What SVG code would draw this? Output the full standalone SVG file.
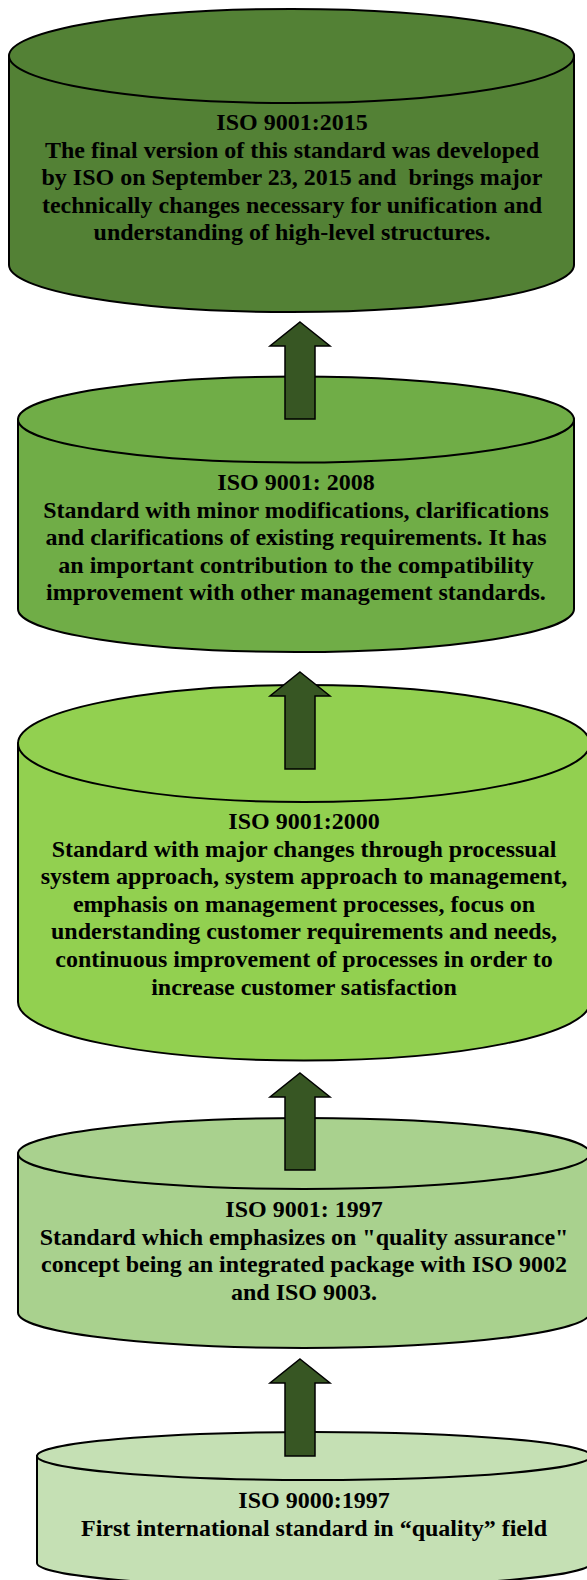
<svg xmlns="http://www.w3.org/2000/svg" width="587" height="1580" viewBox="0 0 587 1580">
  <style>
    .cyl { stroke: #000; stroke-width: 2; }
    .c1 { fill: #538135; }
    .c2 { fill: #70AD47; }
    .c3 { fill: #92D050; }
    .c4 { fill: #A9D18E; }
    .c5 { fill: #C5E0B4; }
    .lbl { font-family: "Liberation Serif", "Times New Roman", serif; font-weight: bold; font-size: 24px; fill: #000; text-anchor: middle; }
    .arrow { fill: #375623; stroke: #000; stroke-width: 1.5; stroke-linejoin: miter; }
  </style>
  <rect width="587" height="1580" fill="#fff"/>

  <!-- ISO 9001:2015 -->
  <g id="iso9001-2015">
    <path class="cyl c1" d="M9,56 V265 A282.5,47 0 0 0 574,265 V56 Z"/>
    <ellipse class="cyl c1" cx="291.5" cy="56" rx="282.5" ry="47"/>
    <text class="lbl" xml:space="preserve"><tspan x="292" y="130">ISO 9001:2015</tspan><tspan x="292" y="157.6">The final version of this standard was developed</tspan><tspan x="292" y="185.2">by ISO on September 23, 2015 and  brings major</tspan><tspan x="292" y="212.8">technically changes necessary for unification and</tspan><tspan x="292" y="240.4">understanding of high-level structures.</tspan></text>
  </g>

  <!-- ISO 9001:2008 -->
  <g id="iso9001-2008">
    <path class="cyl c2" d="M18,419.5 V609 A278,43 0 0 0 574,609 V419.5 Z"/>
    <ellipse class="cyl c2" cx="296" cy="419.5" rx="278" ry="43"/>
    <text class="lbl"><tspan x="296" y="490">ISO 9001: 2008</tspan><tspan x="296" y="517.6">Standard with minor modifications, clarifications</tspan><tspan x="296" y="545.2">and clarifications of existing requirements. It has</tspan><tspan x="296" y="572.8">an important contribution to the compatibility</tspan><tspan x="296" y="600.4">improvement with other management standards.</tspan></text>
  </g>

  <!-- ISO 9001:2000 -->
  <g id="iso9001-2000">
    <path class="cyl c3" d="M18,743.5 V1002 A286,58.5 0 0 0 590,1002 V743.5 Z"/>
    <ellipse class="cyl c3" cx="304" cy="743.5" rx="286" ry="58.5"/>
    <text class="lbl"><tspan x="304" y="829">ISO 9001:2000</tspan><tspan x="304" y="856.6">Standard with major changes through processual</tspan><tspan x="304" y="884.2">system approach, system approach to management,</tspan><tspan x="304" y="911.8">emphasis on management processes, focus on</tspan><tspan x="304" y="939.4">understanding customer requirements and needs,</tspan><tspan x="304" y="967">continuous improvement of processes in order to</tspan><tspan x="304" y="994.6">increase customer satisfaction</tspan></text>
  </g>

  <!-- ISO 9001:1997 -->
  <g id="iso9001-1997">
    <path class="cyl c4" d="M18,1153.5 V1312.5 A286,35.5 0 0 0 590,1312.5 V1153.5 Z"/>
    <ellipse class="cyl c4" cx="304" cy="1153.5" rx="286" ry="35.5"/>
    <text class="lbl"><tspan x="304" y="1217">ISO 9001: 1997</tspan><tspan x="304" y="1244.6">Standard which emphasizes on "quality assurance"</tspan><tspan x="304" y="1272.2">concept being an integrated package with ISO 9002</tspan><tspan x="304" y="1299.8">and ISO 9003.</tspan></text>
  </g>

  <!-- ISO 9000:1997 -->
  <g id="iso9000-1997">
    <path class="cyl c5" d="M37,1456 V1563 A277,24 0 0 0 591,1563 V1456 Z"/>
    <ellipse class="cyl c5" cx="314" cy="1456" rx="277" ry="24"/>
    <text class="lbl"><tspan x="314" y="1508">ISO 9000:1997</tspan><tspan x="314" y="1536">First international standard in “quality” field</tspan></text>
  </g>

  <!-- upward block arrows between the stages -->
  <g id="connectors">
    <path class="arrow" d="M300,322 L330,346 L315,346 L315,419 L285,419 L285,346 L270,346 Z"/>
    <path class="arrow" d="M300,672 L330,696 L315,696 L315,769 L285,769 L285,696 L270,696 Z"/>
    <path class="arrow" d="M300,1073 L330,1097 L315,1097 L315,1170 L285,1170 L285,1097 L270,1097 Z"/>
    <path class="arrow" d="M300,1359 L330,1383 L315,1383 L315,1456 L285,1456 L285,1383 L270,1383 Z"/>
  </g>
</svg>
